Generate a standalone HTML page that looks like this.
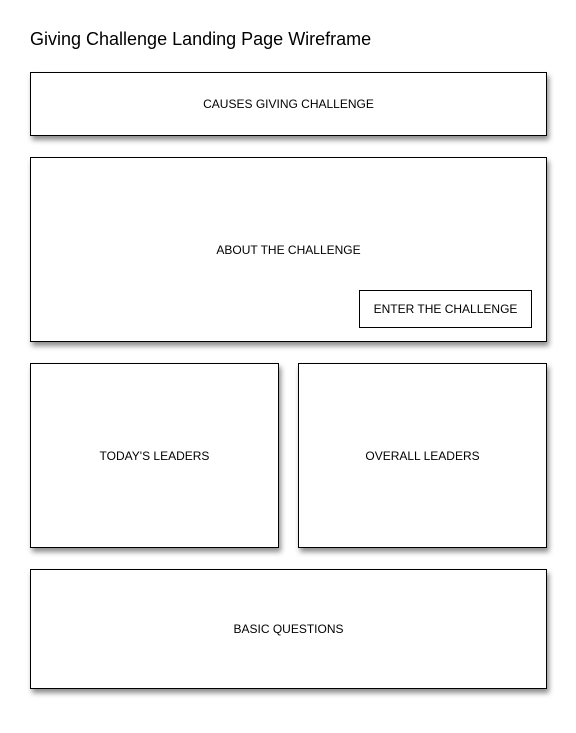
<!DOCTYPE html>
<html><head><style>
html,body{margin:0;padding:0;background:#fff;width:576px;height:733px;overflow:hidden;font-family:"Liberation Sans",Arial,sans-serif;}
.t{position:absolute;left:30px;top:29px;font-size:18px;color:#000;white-space:nowrap;}
.b{position:absolute;box-sizing:border-box;border:1px solid #000;background:#fff;box-shadow:2px 4px 5px rgba(0,0,0,0.45);display:flex;align-items:center;justify-content:center;font-size:12px;color:#000;}
.btn{position:absolute;box-sizing:border-box;border:1px solid #000;background:#fff;display:flex;align-items:center;justify-content:center;font-size:12px;}
</style></head><body>
<div class="t">Giving Challenge Landing Page Wireframe</div>
<div class="b" style="left:30px;top:72px;width:517px;height:64px;">CAUSES GIVING CHALLENGE</div>
<div class="b" style="left:30px;top:157px;width:517px;height:185px;">ABOUT THE CHALLENGE</div>
<div class="btn" style="left:359px;top:290px;width:173px;height:38px;">ENTER THE CHALLENGE</div>
<div class="b" style="left:30px;top:363px;width:249px;height:185px;">TODAY'S LEADERS</div>
<div class="b" style="left:298px;top:363px;width:249px;height:185px;">OVERALL LEADERS</div>
<div class="b" style="left:30px;top:569px;width:517px;height:120px;">BASIC QUESTIONS</div>
</body></html>
